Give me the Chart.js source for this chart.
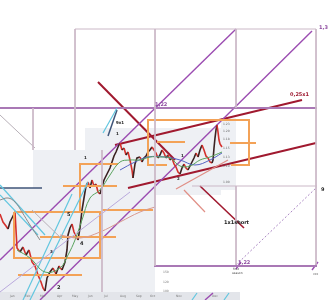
<!DOCTYPE html>
<html>
<head>
<meta charset="utf-8">
<script src="https://cdn.jsdelivr.net/npm/chart.js@4.4.1/dist/chart.umd.min.js"></script>
<style>
  html, body { margin: 0; padding: 0; background: #fff; }
  #wrap { width: 328px; height: 300px; }
</style>
</head>
<body>
<div id="wrap"><canvas id="ta"></canvas></div>
<script>
// price path (x = bar position, y = price in screen units)
const priceX = [0,3,6,8,10,12,15,17,20,23,26,29,32,35,38,41,43,45,47,50,53,56,59,62,65,67,68,70,72,74,76,78,80,82,84,86,88,90,92,94,96,98,100,102,104,106,108,110,112,114,116,118,120,122,124,126,128,130,132,133,135,137,140,142,144,146,148,150,152,154,156,158,160,162,164,166,168,170,172,174,176,178,180,182,184,186,188,190,192,194,196,198,200,202,204,206,208,210,212,213,214,215,216,217,218,219,220,222];
const priceY = [214,222,226,229,222,218,212,248,252,247,255,250,262,266,275,282,288,291,278,272,268,274,266,270,262,250,235,228,224,232,236,240,228,210,198,186,182,188,180,186,184,192,194,187,180,176,172,168,162,156,152,147,143,150,148,155,152,160,170,178,164,158,157,162,158,156,152,150,147,150,153,158,155,150,153,158,155,160,158,164,167,172,174,168,164,168,170,166,162,158,153,157,150,145,150,156,158,162,163,160,148,138,130,125,132,140,144,147];

// moving averages
const greenMA = [[17,250],[30,258],[45,272],[60,268],[68,255],[75,240],[82,220],[90,198],[100,190],[110,175],[120,162],[130,160],[140,160],[150,157],[160,157],[170,158],[180,166],[190,166],[200,160],[210,157],[222,152]];
const blueMA = [[120,170],[135,162],[148,157],[165,157],[180,160],[195,165],[210,160],[222,153]];
const grayCurve = [[0,200],[8,198],[15,202],[22,212],[30,225],[40,240]];
const pinkCurve = [[60,235],[80,238],[100,232],[120,222],[140,212],[155,207]];

// drawn tools: [x0, y0, x1, y1, ...] polylines
const frameLines = [[75,29,316,29],[75,29,75,150],[155,29,155,266],[236,29,236,108],[316,29,316,265],[33,108,33,150],[192,186,317,186],[236,186,236,265],[102,150,102,292]];
const grayDiag = [[0,115,35,148],[32,210,63,240]];
const purpleLevels = [[0,108,317,108],[154,266,317,266]];
const purpleFans = [[0,260,236,29],[40,300,312,31]];
const purpleDashed = [[236,265,317,187]];
const purpleShort = [[312,270,318,262],[236,269,241,262],[205,300,213,293]];
const lavender = [[0,292,130,192]];
const redTrends = [[98,82,175,160],[115,145,302,100],[128,188,316,143]];
const redShort = [[200,186,244,228]];
const salmonLines = [[184,190,205,212],[176,189,228,160]];
const orangeBoxes = [[14,212,100,212,100,258,14,258,14,212],[80,212,80,164,118,164],[167,165,148,165,148,120,249,120,249,165,231,165]];
const orangeLevels = [[63,186,117,186],[102,210,153,210],[40,237,116,237],[18,275,82,275],[157,142,185,142],[230,143,256,143]];
const cyanLines = [[0,185,45,235],[0,195,38,235],[23,300,72,194],[30,300,88,182],[103,133,117,108],[192,300,197,293],[224,300,229,293]];
const navyLines = [[108,136,117,110],[0,188,42,188]];

// background panels of the pasted screenshots: [x0, y0, x1, y1]
const panels = [[0,188,155,292],[33,150,85,190],[85,128,221,195],[221,118,236,190]];
const axisStrips = [[0,292,240,300]];

// text
const labels = [
  ['1,38', 319, 28, '#8e4ba0', 5], ['0,25x1', 290, 95, '#9e1b32', 5], ['1,22', 155, 105, '#8e4ba0', 5],
  ['1,22', 238, 263, '#8e4ba0', 5], ['9', 321, 190, '#222', 5], ['1x1short', 224, 223, '#222', 5],
  ['9x1', 116, 123, '#222', 4], ['1', 116, 134, '#222', 4], ['1', 84, 158, '#222', 4], ['5', 67, 215, '#222', 5],
  ['4', 80, 244, '#222', 5], ['3', 50, 252, '#222', 4], ['2', 57, 288, '#222', 5], ['1', 181, 156, '#222', 4],
  ['2', 177, 179, '#222', 4], ['first', 233, 269, '#444', 3], ['season', 232, 273, '#444', 3], ['xxx', 313, 274, '#444', 3],
  ['1.23', 223, 124, '#666', 3], ['1.20', 223, 131, '#666', 3], ['1.18', 223, 139, '#666', 3],
  ['1.15', 223, 148, '#666', 3], ['1.13', 223, 157, '#666', 3], ['1.10', 223, 166, '#666', 3], ['1.00', 223, 182, '#666', 3],
  ['150', 163, 272, '#777', 3], ['120', 163, 282, '#777', 3], ['100', 163, 291, '#777', 3],
  ['Jan', 10, 296, '#777', 3], ['Feb', 25, 296, '#777', 3], ['Mar', 40, 296, '#777', 3], ['Apr', 57, 296, '#777', 3],
  ['May', 72, 296, '#777', 3], ['Jun', 88, 296, '#777', 3], ['Jul', 104, 296, '#777', 3], ['Aug', 120, 296, '#777', 3],
  ['Sep', 136, 296, '#777', 3], ['Oct', 150, 296, '#777', 3], ['Nov', 176, 296, '#777', 3], ['Dec', 212, 296, '#777', 3]
];

function pts(arr) {
  const out = [];
  for (let i = 0; i < arr.length; i += 2) out.push({ x: arr[i], y: arr[i + 1] });
  return out;
}

const datasets = [];
function addGroup(group, color, width, dash) {
  group.forEach(g => datasets.push({
    data: pts(g), borderColor: color, borderWidth: width, borderDash: dash || [],
    showLine: true, pointRadius: 0, fill: false, tension: 0
  }));
}

addGroup(frameLines, '#cbb8c7', 1);
addGroup(grayDiag, '#b8b0b8', 1);
addGroup(lavender, '#b9a9dc', 1);
datasets.push({ data: grayCurve.map(p => ({ x: p[0], y: p[1] })), borderColor: '#8a8a8a', borderWidth: 1, showLine: true, pointRadius: 0, tension: 0.4 });
datasets.push({ data: pinkCurve.map(p => ({ x: p[0], y: p[1] })), borderColor: '#d99a92', borderWidth: 1, showLine: true, pointRadius: 0, tension: 0.4 });
datasets.push({ data: greenMA.map(p => ({ x: p[0], y: p[1] })), borderColor: '#5aa35e', borderWidth: 1, showLine: true, pointRadius: 0, tension: 0.4 });
datasets.push({ data: blueMA.map(p => ({ x: p[0], y: p[1] })), borderColor: '#5563c4', borderWidth: 1, showLine: true, pointRadius: 0, tension: 0.4 });
addGroup(cyanLines, '#62c6df', 1.2);
addGroup(navyLines, '#3f5579', 1.5);
addGroup(orangeLevels, '#f3a257', 2);
addGroup(orangeBoxes, '#f3a257', 2);
datasets.push({
  data: priceX.map((x, i) => ({ x: x, y: priceY[i] })),
  showLine: true, pointRadius: 0, borderWidth: 1.6, tension: 0,
  borderColor: '#c62828',
  segment: { borderColor: c => c.p1.parsed.y < c.p0.parsed.y ? '#3b2222' : '#d4302c' }
});
addGroup(salmonLines, '#e08f86', 1.2);
addGroup(purpleLevels, '#a978b5', 2);
addGroup(purpleFans, '#9b4cb1', 1.4);
addGroup(purpleDashed, '#a985c2', 1, [2, 2]);
addGroup(purpleShort, '#9b4cb1', 1.4);
addGroup(redTrends, '#a0192f', 2);
addGroup(redShort, '#a0192f', 1.6);

const panelPlugin = {
  id: 'panels',
  beforeDatasetsDraw(chart) {
    const { ctx, scales: { x, y } } = chart;
    ctx.save();
    const box = (p, col) => {
      const x0 = x.getPixelForValue(p[0]), y0 = y.getPixelForValue(p[1]);
      const x1 = x.getPixelForValue(p[2]), y1 = y.getPixelForValue(p[3]);
      ctx.fillStyle = col;
      ctx.fillRect(x0, y0, x1 - x0, y1 - y0);
    };
    panels.forEach(p => box(p, '#eef0f4'));
    axisStrips.forEach(p => box(p, '#e3e5ea'));
    ctx.restore();
  }
};

const labelPlugin = {
  id: 'labels',
  afterDatasetsDraw(chart) {
    const { ctx, scales: { x, y } } = chart;
    ctx.save();
    ctx.textBaseline = 'middle';
    labels.forEach(l => {
      ctx.font = (l[4] >= 4 ? 'bold ' : '') + l[4] + 'px "DejaVu Sans"';
      ctx.fillStyle = l[3];
      ctx.fillText(l[0], x.getPixelForValue(l[1]), y.getPixelForValue(l[2]));
    });
    ctx.restore();
  }
};

new Chart(document.getElementById('ta').getContext('2d'), {
  type: 'scatter',
  data: { datasets: datasets },
  options: {
    responsive: true,
    maintainAspectRatio: false,
    animation: false,
    layout: { padding: 0 },
    scales: {
      x: { type: 'linear', min: 0, max: 328, display: false },
      y: { type: 'linear', min: 0, max: 300, reverse: true, display: false }
    },
    plugins: { legend: { display: false }, tooltip: { enabled: false } }
  },
  plugins: [panelPlugin, labelPlugin]
});
</script>
</body>
</html>
